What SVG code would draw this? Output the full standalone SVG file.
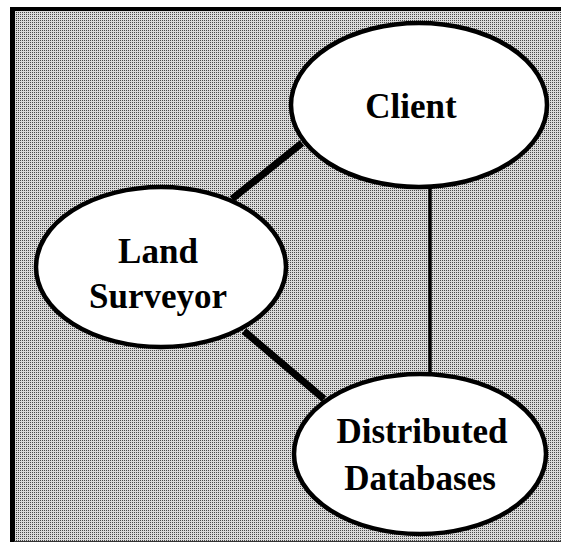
<svg xmlns="http://www.w3.org/2000/svg" width="561" height="543" viewBox="0 0 561 543">
  <defs>
    <!-- halftone screen used for the panel background -->
    <pattern id="screen" patternUnits="userSpaceOnUse" width="2" height="2">
      <rect width="2" height="2" fill="#dadada"/>
      <rect width="1" height="1" fill="#4a4a4a"/>
    </pattern>
    <style>
      .node ellipse { fill: #ffffff; stroke: #000000; stroke-width: 4.5; }
      .node text { font-family: "Liberation Serif", "Times New Roman", serif; font-weight: bold; font-size: 35px; fill: #000000; text-anchor: middle; }
      .link { stroke: #000000; fill: none; }
      .thick { stroke-width: 7; }
      .thin { stroke-width: 3.5; }
    </style>
  </defs>

  <!-- panel background and frame -->
  <rect x="0" y="0" width="561" height="543" fill="#ffffff"/>
  <rect x="14" y="10" width="547" height="531" fill="url(#screen)" shape-rendering="crispEdges"/>
  <rect x="10" y="7" width="5" height="535" fill="#000000"/>
  <rect x="10" y="7" width="551" height="4" fill="#000000"/>
  <rect x="14" y="541" width="547" height="1" fill="#333333"/>

  <!-- connectors -->
  <g id="connectors">
    <line class="link thick" x1="232" y1="199" x2="302" y2="143"/>
    <line class="link thick" x1="244" y1="331" x2="324" y2="399"/>
    <line class="link thin" x1="430" y1="186" x2="430" y2="375"/>
  </g>

  <g id="client" class="node">
    <ellipse cx="419" cy="105" rx="128" ry="82"/>
    <text x="411" y="118">Client</text>
  </g>

  <g id="land-surveyor" class="node">
    <ellipse cx="161" cy="267" rx="125" ry="80"/>
    <text x="158" y="263">Land</text>
    <text x="158" y="308">Surveyor</text>
  </g>

  <g id="distributed-databases" class="node">
    <ellipse cx="420" cy="454" rx="126" ry="80"/>
    <text x="422" y="443">Distributed</text>
    <text x="420" y="490">Databases</text>
  </g>
</svg>
